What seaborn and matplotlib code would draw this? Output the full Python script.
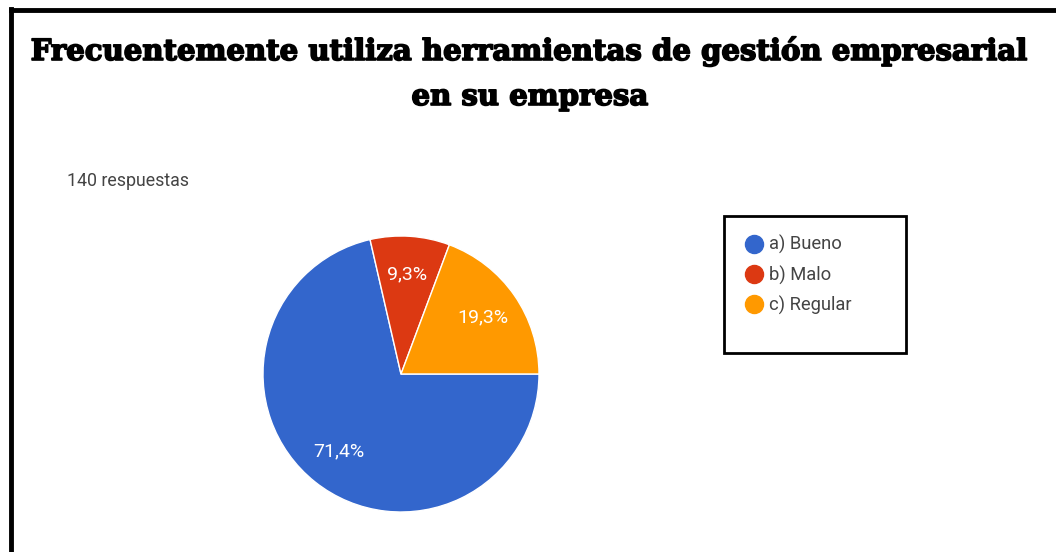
import matplotlib
matplotlib.use("Agg")
import matplotlib.pyplot as plt
import matplotlib.patheffects as pe
import seaborn as sns
from matplotlib.lines import Line2D
from matplotlib.patches import Rectangle

# data
categories = ["a) Bueno", "b) Malo", "c) Regular"]
percentages = [71.4, 9.3, 19.3]
colors = ["#3366CC", "#DC3912", "#FF9900"]
title_lines = ["Frecuentemente utiliza herramientas de gestión empresarial", "en su empresa"]
responses_text = "140 respuestas"

sns.set_theme(style="white")
plt.rcParams['font.family'] = ['Roboto', 'DejaVu Sans']

W, H = 1056, 552
fig = plt.figure(figsize=(W / 100, H / 100), dpi=100)

# thick black frame on the left and top like the screenshot
fig.add_artist(Line2D([11 / W, 11 / W], [0, 1 - 9 / H], transform=fig.transFigure,
                      color="black", linewidth=3.5, solid_capstyle="projecting"))
fig.add_artist(Line2D([11 / W, 1], [1 - 9.5 / H, 1 - 9.5 / H], transform=fig.transFigure,
                      color="black", linewidth=3.5, solid_capstyle="projecting"))

# title, two lines drawn on their baselines; thin stroke makes it look heavier
for line, base in zip(title_lines, [60, 105]):
    fig.text(530 / W, 1 - base / H, line, ha="center", va="baseline", fontsize=21,
             family="DejaVu Serif", weight="heavy", color="black",
             path_effects=[pe.withStroke(linewidth=1.2, foreground="black")])

fig.text(67 / W, 1 - 181 / H, responses_text, ha="left", va="center",
         fontsize=12.8, color="#444444")

# pie axes: centre (401, 374) px, radius 138 px
cx, cy, r = 401 / W, 1 - 374 / H, 138
ax = fig.add_axes([cx - r / W, cy - r / H, 2 * r / W, 2 * r / H])
wedges, texts, autotexts = ax.pie(
    percentages, colors=colors, startangle=0, counterclock=False,
    autopct=lambda p: f"{p:.1f}%".replace(".", ","), pctdistance=0.72,
    wedgeprops=dict(edgecolor="white", linewidth=1),
    textprops=dict(color="white", fontsize=14))
ax.set_xlim(-1, 1)
ax.set_ylim(-1, 1)
ax.set_aspect("equal")
ax.axis("off")

# legend with a plain black box around it
fig.add_artist(Rectangle((724 / W, 1 - 353 / H), 182 / W, 137 / H,
                         transform=fig.transFigure, fill=False,
                         edgecolor="black", linewidth=2))
handles = [Line2D([], [], marker="o", linestyle="", markersize=13,
                  markerfacecolor=c, markeredgecolor=c) for c in colors]
leg = fig.legend(handles, categories, loc="upper left",
                 bbox_to_anchor=(735 / W, 1 - 226 / H), frameon=False,
                 fontsize=13.2, handletextpad=0.25, labelspacing=0.6,
                 handlelength=1.1, borderpad=0)
for t in leg.get_texts():
    t.set_color("#444444")

fig.savefig("out.png", dpi=100, facecolor="white")
